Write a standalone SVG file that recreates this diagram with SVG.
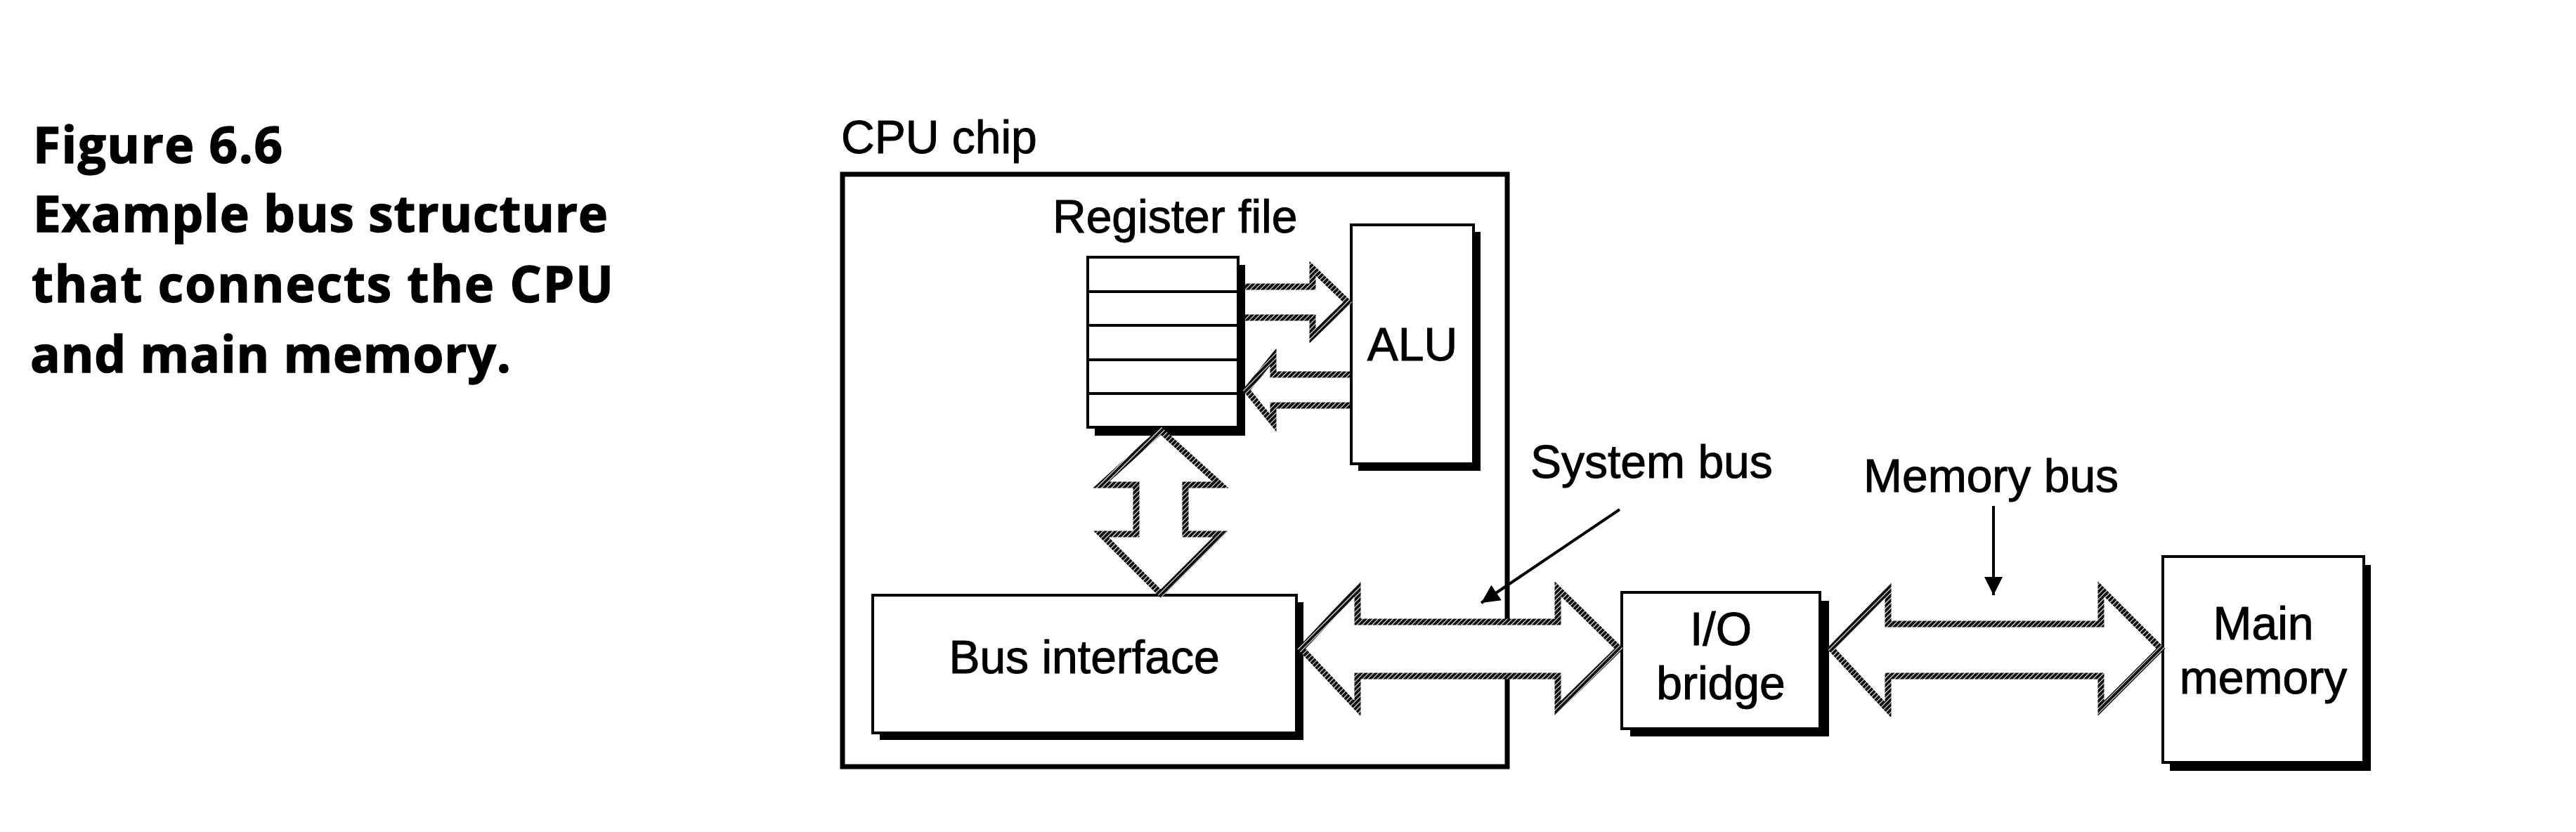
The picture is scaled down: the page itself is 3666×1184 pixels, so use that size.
<svg xmlns="http://www.w3.org/2000/svg" width="3666" height="1184" viewBox="0 0 3666 1184">
  <defs>
    <style>
      .cap { font-family: "Open Sans", "Liberation Sans", sans-serif; font-weight: bold; font-size: 71px; fill: #000; stroke: #000; stroke-width: 1.5; }
      .lbl { font-family: "Liberation Sans", Arial, Helvetica, sans-serif; font-size: 66px; fill: #000; stroke: #000; stroke-width: 1; }
      .box { fill: #fff; stroke: #000; stroke-width: 4; }
      .shadow { fill: #000; }
      .bus { fill: #fff; stroke: url(#hatch); stroke-width: 9; stroke-linejoin: miter; }
      .ptr { fill: none; stroke: #000; stroke-width: 4; }
    </style>
    <pattern id="hatch" width="5" height="5" patternUnits="userSpaceOnUse" patternTransform="rotate(45)">
      <rect width="5" height="5" fill="#fff"/>
      <rect width="4" height="5" fill="#111"/>
    </pattern>
    <marker id="ah" viewBox="0 0 10 10" refX="10" refY="5" markerUnits="userSpaceOnUse" markerWidth="36" markerHeight="26" orient="auto">
      <path d="M0,0 L10,5 L0,10 z" fill="#000"/>
    </marker>
  </defs>

  <rect width="3666" height="1184" fill="#fff"/>

  <g id="caption">
    <text class="cap" x="47" y="232" textLength="355" lengthAdjust="spacing">Figure 6.6</text>
    <text class="cap" x="47" y="330" textLength="818" lengthAdjust="spacing">Example bus structure</text>
    <text class="cap" x="45" y="430" textLength="828" lengthAdjust="spacing">that connects the CPU</text>
    <text class="cap" x="43" y="530" textLength="684" lengthAdjust="spacing">and main memory.</text>
  </g>

  <g id="cpu-chip">
    <text class="lbl" x="1197" y="218">CPU chip</text>
    <rect x="1199" y="248" width="946" height="843" fill="none" stroke="#000" stroke-width="7"/>
  </g>

  <g id="register-file">
    <text class="lbl" x="1498" y="331">Register file</text>
    <rect class="shadow" x="1558" y="377" width="214" height="243"/>
    <rect class="box" x="1548" y="366" width="214" height="242"/>
    <path d="M1548,415 H1762 M1548,463 H1762 M1548,512 H1762 M1548,560 H1762" stroke="#000" stroke-width="4"/>
  </g>

  <g id="alu">
    <rect class="shadow" x="1933" y="330" width="174" height="340"/>
    <rect class="box" x="1923" y="320" width="174" height="340"/>
    <text class="lbl" x="2010" y="513" text-anchor="middle">ALU</text>
  </g>

  <g id="bus-interface">
    <rect class="shadow" x="1252" y="857" width="603" height="196"/>
    <rect class="box" x="1242" y="847" width="603" height="196"/>
    <text class="lbl" x="1543" y="958" text-anchor="middle">Bus interface</text>
  </g>

  <g id="io-bridge">
    <rect class="shadow" x="2320" y="855" width="283" height="193"/>
    <rect class="box" x="2308" y="843" width="282" height="194"/>
    <text class="lbl" x="2449" y="918" text-anchor="middle">I/O</text>
    <text class="lbl" x="2449" y="995" text-anchor="middle">bridge</text>
  </g>

  <g id="main-memory">
    <rect class="shadow" x="3088" y="804" width="286" height="293"/>
    <rect class="box" x="3078" y="792" width="286" height="293"/>
    <text class="lbl" x="3221" y="910" text-anchor="middle">Main</text>
    <text class="lbl" x="3221" y="987" text-anchor="middle">memory</text>
  </g>

  <g id="bus-labels">
    <text class="lbl" x="2178" y="680">System bus</text>
    <text class="lbl" x="2652" y="700">Memory bus</text>
  </g>

  <g id="connectors">
    <path class="bus" d="M1772,408 H1868 V382 L1918,430 L1868,478 V452 H1772"/>
    <path class="bus" d="M1921,533 H1812 V508 L1774,555 L1812,602 V577 H1921"/>
    <path class="bus" d="M1652,613 L1737,690 H1687 V760 H1737 L1652,845 L1567,760 H1617 V690 H1567 Z"/>
    <path class="bus" d="M1852,923 L1932,838 V885 H2217 V838 L2304,923 L2217,1008 V962 H1932 V1008 Z"/>
    <path class="bus" d="M2606,923 L2687,840 V888 H2990 V838 L3075,923 L2990,1008 V962 H2687 V1010 Z"/>
    <line class="ptr" x1="2305" y1="725" x2="2108" y2="858" marker-end="url(#ah)"/>
    <line class="ptr" x1="2837" y1="720" x2="2837" y2="847" marker-end="url(#ah)"/>
  </g>
</svg>
